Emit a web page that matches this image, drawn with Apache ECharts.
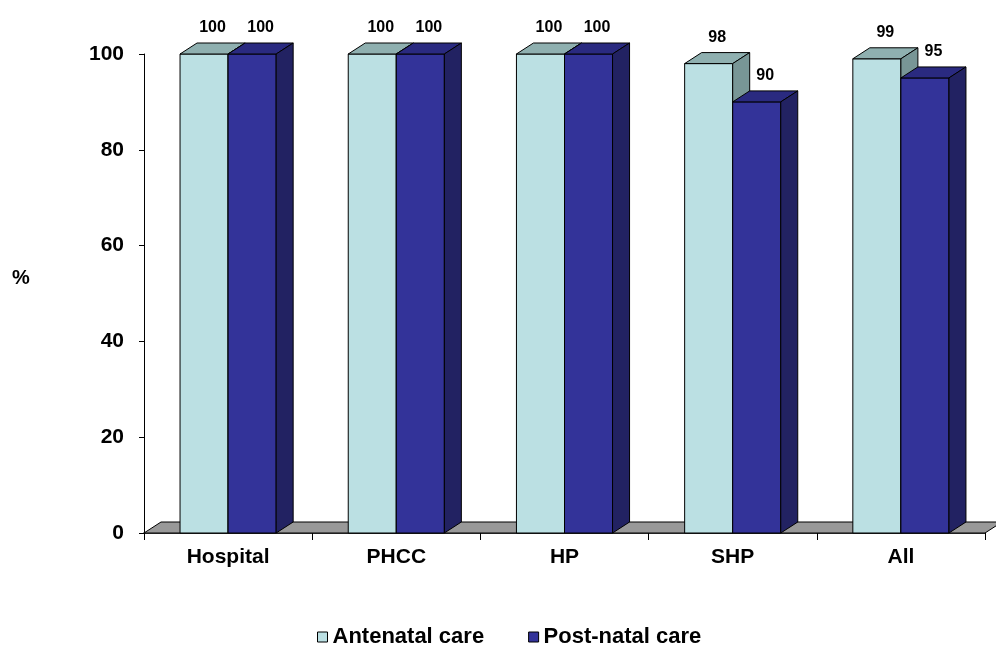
<!DOCTYPE html>
<html>
<head>
<meta charset="utf-8">
<style>
  html, body { margin: 0; padding: 0; background: #fff; }
  #chart { width: 996px; height: 646px; }
</style>
<script src="https://cdn.jsdelivr.net/npm/echarts@6/dist/echarts.min.js"></script>
</head>
<body>
<div id="chart"></div>
<script>
// Service coverage by facility type (%)
const categories = ['Hospital', 'PHCC', 'HP', 'SHP', 'All'];
const antenatalCare = [100, 100, 100, 98, 99];
const postNatalCare = [100, 100, 100, 90, 95];
const seriesNames = ['Antenatal care', 'Post-natal care'];
const yMin = 0, yMax = 100, yStep = 20;

const FONT = '"Liberation Sans", Arial, Helvetica, sans-serif';

// 3D extrusion of the columns and floor
const DEPTH_X = 17, DEPTH_Y = -11;
const BAR_RATIO = 48 / 168;

const palettes = [
  { front: '#BBE0E3', top: '#8FB0B0', side: '#789696' },
  { front: '#333399', top: '#2A2A80', side: '#222262' }
];

function columnRenderer(slot, pal) {
  return function (params, api) {
    const i = api.value(0);
    const v = api.value(1);
    const base = api.coord([i, 0]);
    const peak = api.coord([i, v]);
    const band = api.size([1, 0])[0];
    const w = band * BAR_RATIO;
    const x0 = base[0] - w + slot * w;
    const x1 = x0 + w;
    const yT = peak[1], yB = base[1];
    const edge = { stroke: '#000', lineWidth: 1 };
    return {
      type: 'group',
      children: [
        { type: 'rect', shape: { x: x0, y: yT, width: w, height: yB - yT },
          style: Object.assign({ fill: pal.front }, edge) },
        { type: 'polygon', shape: { points: [[x0, yT], [x1, yT], [x1 + DEPTH_X, yT + DEPTH_Y], [x0 + DEPTH_X, yT + DEPTH_Y]] },
          style: Object.assign({ fill: pal.top }, edge) },
        { type: 'polygon', shape: { points: [[x1, yT], [x1 + DEPTH_X, yT + DEPTH_Y], [x1 + DEPTH_X, yB + DEPTH_Y], [x1, yB]] },
          style: Object.assign({ fill: pal.side }, edge) },
        { type: 'text', style: {
            text: String(v), x: x0 + w / 2 + DEPTH_X / 2, y: yT + DEPTH_Y - 7,
            align: 'center', verticalAlign: 'bottom',
            font: 'bold 16px ' + FONT, fill: '#000' } }
      ]
    };
  };
}

function floorRenderer(params, api) {
  const cs = params.coordSys;
  const yF = cs.y + cs.height;
  const xL = cs.x, xR = cs.x + cs.width;
  return {
    type: 'polygon',
    shape: { points: [[xL, yF], [xR, yF], [xR + DEPTH_X, yF + DEPTH_Y], [xL + DEPTH_X, yF + DEPTH_Y]] },
    style: { fill: '#999999', stroke: '#000', lineWidth: 1 }
  };
}

const chart = echarts.init(document.getElementById('chart'), null, { renderer: 'canvas' });

chart.setOption({
  animation: false,
  backgroundColor: '#fff',
  grid: { left: 144, right: 11, top: 54, bottom: 113, containLabel: false },
  legend: {
    data: seriesNames,
    left: 317, top: 626, padding: 0,
    icon: 'rect', itemWidth: 10, itemHeight: 10, itemGap: 44,
    itemStyle: { borderColor: '#000', borderWidth: 1 },
    textStyle: { fontFamily: FONT, fontWeight: 'bold', fontSize: 22, color: '#000' }
  },
  xAxis: {
    type: 'category',
    data: categories,
    boundaryGap: true,
    axisLine: { lineStyle: { color: '#000', width: 1.5 } },
    axisTick: { show: true, length: 7, lineStyle: { color: '#000' } },
    axisLabel: { margin: 14, color: '#000', fontFamily: FONT, fontWeight: 'bold', fontSize: 21 },
    splitLine: { show: false }
  },
  yAxis: {
    type: 'value',
    min: yMin, max: yMax, interval: yStep,
    axisLine: { show: true, lineStyle: { color: '#000', width: 1 } },
    axisTick: { show: true, length: 5, lineStyle: { color: '#000' } },
    axisLabel: { margin: 20, color: '#000', fontFamily: FONT, fontWeight: 'bold', fontSize: 21 },
    splitLine: { show: false }
  },
  graphic: [
    { type: 'text', left: 12, top: 268,
      style: { text: '%', font: 'bold 20px ' + FONT, fill: '#000' } }
  ],
  series: [
    { name: 'floor', type: 'custom', renderItem: floorRenderer, data: [[0, 0]], silent: true },
    { name: seriesNames[0], type: 'custom', renderItem: columnRenderer(0, palettes[0]),
      itemStyle: { color: palettes[0].front },
      encode: { x: 0, y: 1 },
      data: antenatalCare.map((v, i) => [i, v]) },
    { name: seriesNames[1], type: 'custom', renderItem: columnRenderer(1, palettes[1]),
      itemStyle: { color: palettes[1].front },
      encode: { x: 0, y: 1 },
      data: postNatalCare.map((v, i) => [i, v]) }
  ]
});
</script>
</body>
</html>
